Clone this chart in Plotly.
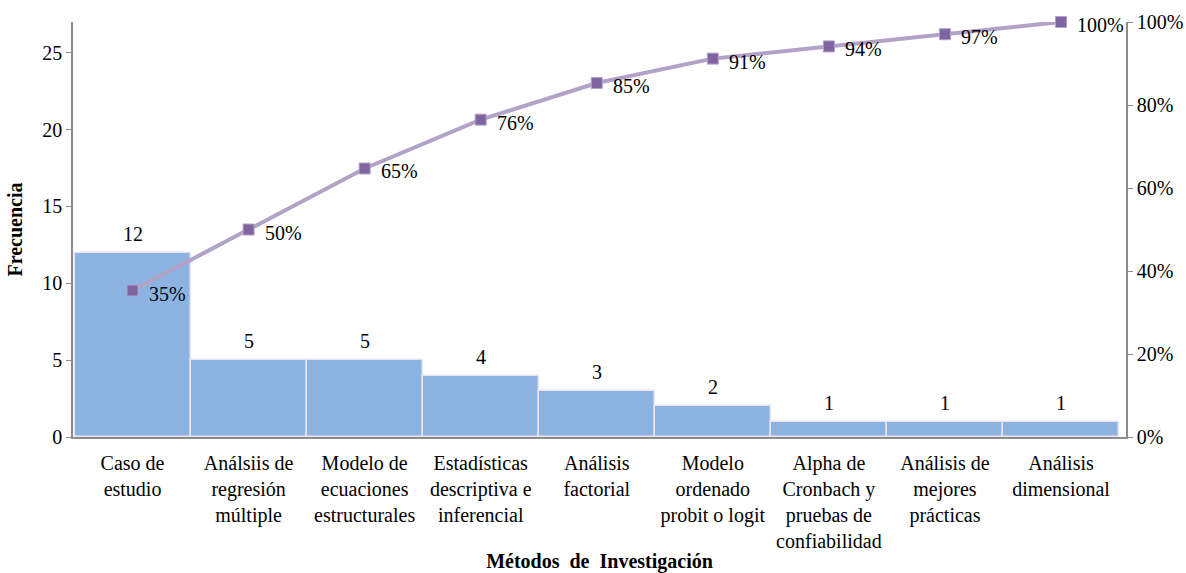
import plotly.graph_objects as go
import numpy as np

# Métodos de investigación y su frecuencia
categorias = [
    "Caso de<br>estudio",
    "Análsiis de<br>regresión<br>múltiple",
    "Modelo de<br>ecuaciones<br>estructurales",
    "Estadísticas<br>descriptiva e<br>inferencial",
    "Análisis<br>factorial",
    "Modelo<br>ordenado<br>probit o logit",
    "Alpha de<br>Cronbach y<br>pruebas de<br>confiabilidad",
    "Análisis de<br>mejores<br>prácticas",
    "Análisis<br>dimensional",
]
frecuencia = [12, 5, 5, 4, 3, 2, 1, 1, 1]

# Porcentaje acumulado (Pareto)
acumulado = np.cumsum(frecuencia) / np.sum(frecuencia)

FONT = "Liberation Serif"
AXIS = "#8c8c8c"
FS = 20

fig = go.Figure()

fig.add_trace(go.Bar(
    x=categorias,
    y=frecuencia,
    marker=dict(color="#8DB3E2", line=dict(color="#E8E4F0", width=1.5)),
    showlegend=False,
    hoverinfo="x+y",
))

fig.add_trace(go.Scatter(
    x=categorias,
    y=acumulado,
    yaxis="y2",
    mode="lines+markers",
    line=dict(color="#B3A2C7", width=4),
    marker=dict(symbol="square", size=11, color="#8064A2",
                line=dict(color="#B3A2C7", width=1)),
    cliponaxis=False,
    showlegend=False,
))

# Etiquetas de frecuencia sobre cada barra
for c, v in zip(categorias, frecuencia):
    fig.add_annotation(x=c, y=v, text=str(v), showarrow=False,
                       yanchor="bottom", yshift=6,
                       font=dict(family=FONT, size=FS, color="black"))

# Etiquetas del porcentaje acumulado a la derecha de cada marcador
for c, p in zip(categorias, acumulado):
    fig.add_annotation(x=c, y=p, yref="y2", text=f"{p:.0%}", showarrow=False,
                       xanchor="left", yanchor="middle", xshift=14, yshift=-3,
                       font=dict(family=FONT, size=FS, color="black"))

fig.update_layout(
    width=1186, height=573,
    margin=dict(l=73, r=60, t=22, b=136),
    paper_bgcolor="white", plot_bgcolor="white",
    bargap=0,
    font=dict(family=FONT, size=FS, color="black"),
    xaxis=dict(
        showline=True, linecolor=AXIS, linewidth=1.5,
        ticks="", tickfont=dict(family=FONT, size=FS),
        ticklabelstandoff=7,
        title=dict(text="<b>Métodos  de  Investigación</b>",
                   font=dict(family=FONT, size=FS), standoff=6),
        automargin=False,
    ),
    yaxis=dict(
        range=[0, 27], tickvals=[0, 5, 10, 15, 20, 25],
        showline=True, linecolor=AXIS, linewidth=1.5,
        ticks="outside", ticklen=5, tickcolor=AXIS,
        showgrid=False, zeroline=False,
        tickfont=dict(family=FONT, size=FS),
        title=dict(text="<b>Frecuencia</b>", font=dict(family=FONT, size=FS),
                   standoff=14),
        automargin=False,
    ),
    yaxis2=dict(
        range=[0, 1.0], overlaying="y", side="right",
        tickvals=[0, 0.2, 0.4, 0.6, 0.8, 1.0], tickformat=".0%",
        showline=True, linecolor=AXIS, linewidth=1.5,
        ticks="outside", ticklen=5, tickcolor=AXIS,
        showgrid=False, zeroline=False,
        tickfont=dict(family=FONT, size=FS),
        automargin=False,
    ),
)

fig.write_html("out.html")
